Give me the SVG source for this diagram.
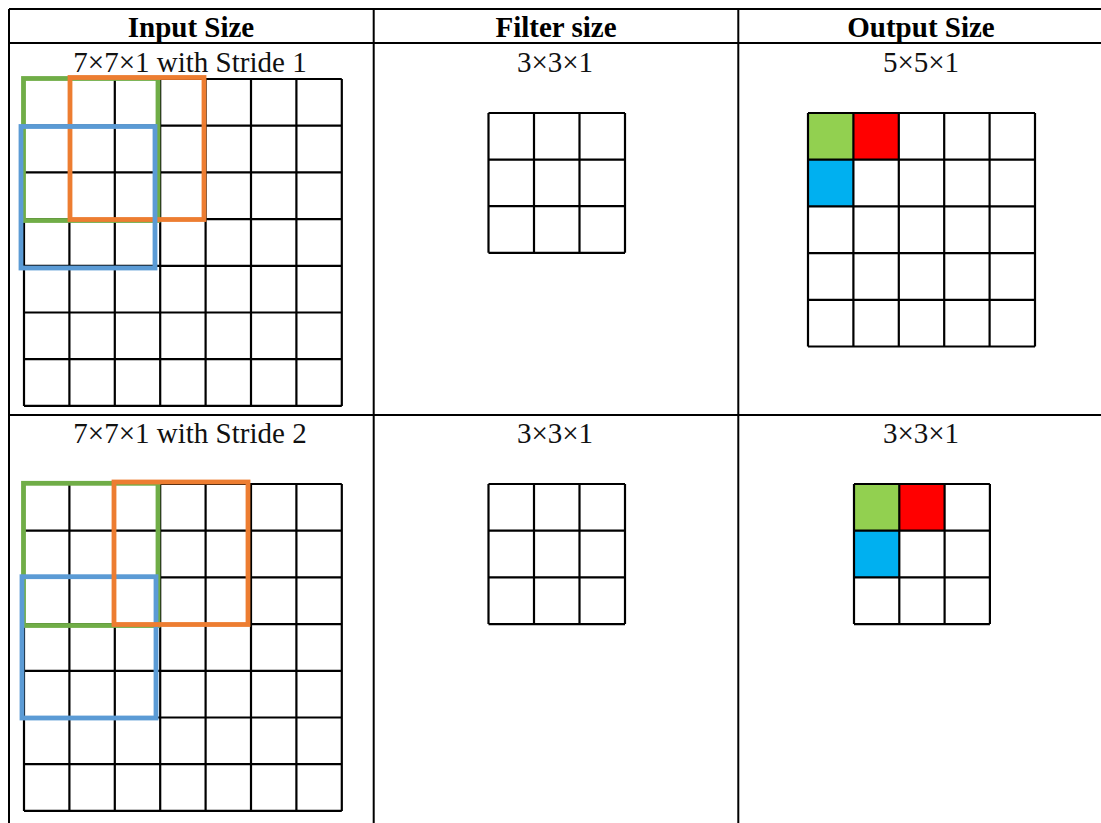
<svg xmlns="http://www.w3.org/2000/svg" width="1101" height="823" viewBox="0 0 1101 823">
<style>
.tbl{stroke:#000;stroke-width:2;fill:none}
.grid{stroke:#000;stroke-width:2.2;fill:none}
.hdr{font-family:"Liberation Serif","Times New Roman",serif;font-weight:bold;font-size:29px;text-anchor:middle;fill:#000}
.lbl{font-family:"Liberation Serif","Times New Roman",serif;font-size:29px;text-anchor:middle;fill:#111}
.g{stroke:#70AD47;stroke-width:4.8;fill:none}
.o{stroke:#ED7D31;stroke-width:4.8;fill:none}
.b{stroke:#5B9BD5;stroke-width:4.8;fill:none}
</style>
<rect width="1101" height="823" fill="#fff"/>
<g id="table">
<path class="tbl" d="M9,9H1101M9,43H1101M9,415H1101M9,9V823M373.7,9V823M738.3,9V823"/>
</g>
<g id="headers">
<text class="hdr" x="191" y="37">Input Size</text>
<text class="hdr" x="556" y="37">Filter size</text>
<text class="hdr" x="921" y="37">Output Size</text>
</g>
<g id="row1-input">
<text class="lbl" x="190" y="72">7×7×1 with Stride 1</text>
<path class="grid" d="M24,79H341.8M24,125.7H341.8M24,172.4H341.8M24,219.1H341.8M24,265.8H341.8M24,312.5H341.8M24,359.2H341.8M24,405.9H341.8M24,79V405.9M69.4,79V405.9M114.8,79V405.9M160.2,79V405.9M205.6,79V405.9M251,79V405.9M296.4,79V405.9M341.8,79V405.9"/>
<rect class="g" x="23.5" y="78.5" width="134.5" height="142"/>
<rect class="o" x="70" y="77.5" width="134" height="142"/>
<rect class="b" x="21" y="126.5" width="134" height="141.5"/>
</g>
<g id="row1-filter">
<text class="lbl" x="555" y="72">3×3×1</text>
<path class="grid" d="M488.5,113H625M488.5,159.6H625M488.5,206.2H625M488.5,252.8H625M488.5,113V252.8M534,113V252.8M579.5,113V252.8M625,113V252.8"/>
</g>
<g id="row1-output">
<text class="lbl" x="921" y="72">5×5×1</text>
<rect x="808" y="113" width="45.4" height="46.7" fill="#92D050"/>
<rect x="853.4" y="113" width="45.4" height="46.7" fill="#FF0000"/>
<rect x="808" y="159.7" width="45.4" height="46.7" fill="#00B0F0"/>
<path class="grid" d="M808,113H1035M808,159.7H1035M808,206.4H1035M808,253.1H1035M808,299.8H1035M808,346.5H1035M808,113V346.5M853.4,113V346.5M898.8,113V346.5M944.2,113V346.5M989.6,113V346.5M1035,113V346.5"/>
</g>
<g id="row2-input">
<text class="lbl" x="190" y="442.5">7×7×1 with Stride 2</text>
<path class="grid" d="M24,484H341.8M24,530.7H341.8M24,577.4H341.8M24,624.1H341.8M24,670.8H341.8M24,717.5H341.8M24,764.2H341.8M24,810.9H341.8M24,484V810.9M69.4,484V810.9M114.8,484V810.9M160.2,484V810.9M205.6,484V810.9M251,484V810.9M296.4,484V810.9M341.8,484V810.9"/>
<rect class="g" x="23.5" y="483.3" width="134.5" height="142.2"/>
<rect class="b" x="22" y="576.7" width="134" height="141.3"/>
<rect class="o" x="114" y="482" width="134" height="142.5"/>
</g>
<g id="row2-filter">
<text class="lbl" x="555" y="442.5">3×3×1</text>
<path class="grid" d="M488.5,484H625M488.5,530.7H625M488.5,577.4H625M488.5,624.1H625M488.5,484V624.1M534,484V624.1M579.5,484V624.1M625,484V624.1"/>
</g>
<g id="row2-output">
<text class="lbl" x="921" y="442.5">3×3×1</text>
<rect x="854" y="484" width="45.3" height="46.7" fill="#92D050"/>
<rect x="899.3" y="484" width="45.3" height="46.7" fill="#FF0000"/>
<rect x="854" y="530.7" width="45.3" height="46.7" fill="#00B0F0"/>
<path class="grid" d="M854,484H989.9M854,530.7H989.9M854,577.4H989.9M854,624.1H989.9M854,484V624.1M899.3,484V624.1M944.6,484V624.1M989.9,484V624.1"/>
</g>
<g id="connectors"></g>
</svg>
